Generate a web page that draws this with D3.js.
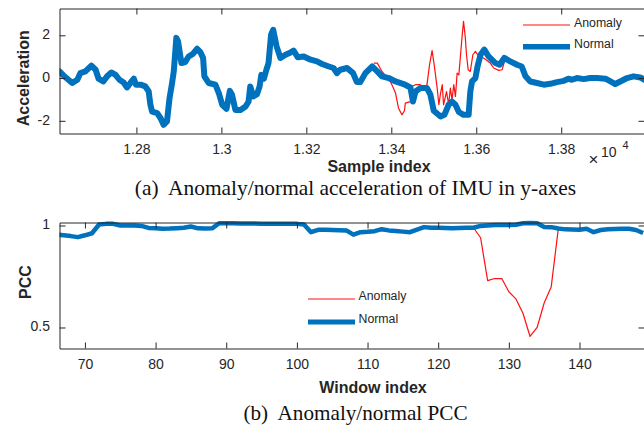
<!DOCTYPE html>
<html><head><meta charset="utf-8">
<script src="https://cdn.jsdelivr.net/npm/d3@7"></script>
<style>
body{margin:0;background:#fff}
text{font-family:"Liberation Sans",Arial,Helvetica,sans-serif}
.cap{font-family:"Liberation Serif","Times New Roman",serif;white-space:pre}
</style>
</head><body>
<svg id="c" width="644" height="427" xmlns="http://www.w3.org/2000/svg"></svg>
<script>
// ---------- data: (a) acceleration ----------
const accSample = [12619,12629,12649,12661,12668,12680,12694,12704,12711,12722,12731,12741,12751,12760,12770,12778,12786,12794,12799,12810,12821,12829,12833,12837,12849,12857,12864,12872,12878,12884,12888,12894,12898,12906,12915,12923,12933,12943,12951,12957,12960,12970,12986,12994,13002,13012,13020,13025,13033,13045,13057,13064,13068,13075,13084,13090,13094,13100,13106,13111,13117,13122,13130,13139,13151,13163,13170,13180,13194,13210,13225,13237,13253,13264,13272,13280,13296,13310,13319,13327,13339,13355,13367,13378,13394,13410,13429,13445,13451,13457,13468,13484,13492,13500,13516,13525,13535,13543,13551,13559,13570,13582,13586,13590,13598,13603,13610,13619,13629,13645,13655,13666,13680,13696,13707,13716,13727,13743,13759,13774,13790,13806,13817,13825,13837,13853,13868,13884,13904,13916,13927,13939,13955,13970,13986,13996];
const accNormal = [0.31,0.11,-0.23,-0.08,0.23,0.31,0.58,0.39,-0.03,-0.16,0.08,0.26,0.15,-0.08,-0.21,-0.44,-0.23,-0.03,-0.31,-0.31,-0.39,-0.63,-1.25,-1.57,-1.64,-1.88,-2.19,-2.03,-0.94,-0.23,0.31,1.88,1.72,0.70,0.75,1.01,1.13,1.37,1.20,0.94,0.08,-0.23,-0.31,-0.70,-1.25,-1.44,-0.60,-0.78,-1.49,-1.49,-1.33,-1.10,-0.39,-0.86,-0.75,-0.39,0.15,-0.03,0.39,0.70,2.03,2.26,1.48,0.94,1.09,1.20,1.28,0.97,1.01,0.86,0.78,0.66,0.54,0.47,0.23,0.39,0.47,0.23,-0.19,-0.19,0.23,0.54,0.31,0.08,0.00,-0.16,-0.28,-0.44,-1.10,-0.63,-0.47,-0.47,-0.78,-1.53,-1.80,-1.72,-1.25,-1.10,-1.25,-1.59,-1.72,-1.72,-0.63,-0.16,0.00,0.54,1.09,1.33,1.01,0.70,0.62,0.94,0.78,0.62,0.54,0.08,-0.16,-0.23,-0.31,-0.27,-0.19,-0.13,-0.03,-0.08,0.00,-0.05,0.00,0.00,-0.03,-0.16,-0.28,-0.16,0.00,0.08,0.03,-0.08];
const accAnomSample = [13359,13367,13378,13398,13410,13417,13425,13431,13433,13445,13449,13457,13468,13476,13484,13490,13496,13501,13508,13512,13516,13520,13523,13530,13535,13539,13543,13547,13551,13555,13559,13563,13567,13570,13574,13577,13581,13586,13592,13598,13606,13617,13633,13641,13653,13661,13666];
const accAnomaly = [0.70,0.70,0.31,-0.16,-0.70,-1.41,-1.72,-1.53,-1.17,-1.10,-0.39,-0.31,-0.31,-0.47,-0.31,0.62,1.28,0.62,-0.47,-1.25,-0.70,-0.31,-1.25,-0.63,-1.25,-0.47,-1.02,-0.31,-0.86,0.23,0.15,1.09,2.03,2.65,1.95,1.09,0.39,0.31,1.09,1.25,1.01,0.94,0.70,0.47,0.36,0.39,0.76];
const accXTicks = [12800,13000,13200,13400,13600,13800];
const accXTickLabels = ["1.28","1.3","1.32","1.34","1.36","1.38"];
const accYTicks = [-2,0,2];
const accYTickLabels = ["-2","0","2"];

// ---------- data: (b) PCC ----------
const pccWindow = [66,67,68,69,70,71,72,73,74,75,76,77,78,79,80,81,82,83,84,85,86,87,88,89,90,91,92,93,94,95,96,97,98,99,100,101,102,103,104,105,106,107,108,109,110,111,112,113,114,115,116,117,118,119,120,121,122,123,124,125,126,127,128,129,130,131,132,133,134,135,136,137,138,139,140,141,142,143,144,145,146,147,148,149];
const pccNormal = [0.955,0.952,0.948,0.943,0.952,0.962,1.005,1.008,1.008,1.000,1.000,1.000,0.998,0.988,0.986,0.984,0.985,0.987,0.989,0.995,0.986,0.985,0.986,1.011,1.011,1.011,1.010,1.010,1.010,1.009,1.009,1.009,1.009,1.009,1.008,1.005,0.967,0.979,0.979,0.978,0.977,0.976,0.955,0.967,0.969,0.972,0.982,0.976,0.973,0.970,0.967,0.980,0.992,0.989,0.989,0.988,0.986,0.988,0.989,0.989,0.998,1.000,1.002,1.003,1.003,1.004,1.011,1.012,1.011,0.993,0.992,0.985,0.981,0.980,0.979,0.984,0.967,0.978,0.982,0.983,0.984,0.984,0.978,0.963];
const pccAnomWindow = [125,126,127,128,129,130,131,132,133,134,135,136,137];
const pccAnomaly = [0.989,0.94,0.73,0.74,0.74,0.675,0.64,0.57,0.456,0.50,0.62,0.70,0.985];
const pccXTicks = [70,80,90,100,110,120,130,140];
const pccYTicks = [0.5,1];
const pccYTickLabels = ["0.5","1"];

const seriesNames = ["Anomaly","Normal"];
const captions = ["(a)  Anomaly/normal acceleration of IMU in y-axes","(b)  Anomaly/normal PCC"];

// ---------- drawing ----------
const BLUE = "#0072BD", RED = "#FF1010", AX = "#262626";
const svg = d3.select("#c");

function frame(g, x, y, xt, xl, yt, yl) {
  const [x0, x1] = x.range(), [y0, y1] = y.range(); // y0 bottom, y1 top
  const st = s => s.attr("font-size", null).attr("font-family", null)
     .call(a => a.selectAll("path,line").attr("stroke", AX).attr("stroke-width", 1))
     .call(a => a.selectAll("text").attr("fill", AX).style("font-size", "14px"));
  g.append("g").attr("transform", `translate(0,${y0})`)
   .call(d3.axisBottom(x).tickValues(xt).tickFormat((d, i) => xl[i]).tickSizeInner(-6).tickSizeOuter(0).tickPadding(10.5)).call(st);
  g.append("g").attr("transform", `translate(0,${y1})`)
   .call(d3.axisTop(x).tickValues(xt).tickFormat("").tickSizeInner(-6).tickSizeOuter(0)).call(st);
  const la = g.append("g").attr("transform", `translate(${x0},0)`)
   .call(d3.axisLeft(y).tickValues(yt).tickFormat((d, i) => yl[i]).tickSizeInner(-6).tickSizeOuter(0).tickPadding(9.5)).call(st);
  la.selectAll("text").attr("dy", null).attr("y", 3.5);
  g.append("g").attr("transform", `translate(${x1},0)`)
   .call(d3.axisRight(y).tickValues(yt).tickFormat("").tickSizeInner(-6).tickSizeOuter(0)).call(st);
}

function clip(id, x, y) {
  svg.append("clipPath").attr("id", id).append("rect")
    .attr("x", x.range()[0]).attr("width", x.range()[1] - x.range()[0])
    .attr("y", 0).attr("height", 427);
}

// ----- chart (a) -----
const xa = d3.scaleLinear().domain([12619, 13996]).range([59.5, 644.5]);
const ya = d3.scaleLinear().domain([-2.594, 3.254]).range([133.5, 8.5]);
clip("ca", xa, ya);
const ga = svg.append("g");
const la = d3.line().x(d => xa(d[0])).y(d => ya(d[1]));
ga.append("g").attr("clip-path", "url(#ca)").call(g => {
  g.append("path").attr("d", la(d3.zip(accAnomSample, accAnomaly)))
   .attr("fill", "none").attr("stroke", RED).attr("stroke-width", 1.2).attr("stroke-linejoin", "round");
  g.append("path").attr("d", la(d3.zip(accSample, accNormal)))
   .attr("fill", "none").attr("stroke", BLUE).attr("stroke-width", 6).attr("stroke-linejoin", "round").attr("stroke-linecap", "round");
});
frame(ga, xa, ya, accXTicks, accXTickLabels, accYTicks, accYTickLabels);

// legend (a)
[[25, RED, 1.2], [46.7, BLUE, 5.5]].forEach(([yy, c, w], i) => {
  ga.append("line").attr("x1", 523).attr("x2", 570).attr("y1", yy).attr("y2", yy).attr("stroke", c).attr("stroke-width", w);
  ga.append("text").attr("x", 574).attr("y", yy + 1.5).attr("font-size", 12.3).attr("fill", AX).text(seriesNames[i]);
});
// axis labels (a)
ga.append("text").attr("transform", "translate(28.5,78.3) rotate(-90)").attr("text-anchor", "middle")
  .attr("font-size", 16).attr("font-weight", "bold").attr("fill", AX).text("Acceleration");
ga.append("text").attr("x", 379).attr("y", 172).attr("text-anchor", "middle")
  .attr("font-size", 16).attr("font-weight", "bold").attr("fill", AX).text("Sample index");
// exponent label
ga.append("text").attr("x", 588.5).attr("y", 164.5).attr("font-size", 17).attr("fill", AX).text("\u00D7");
ga.append("text").attr("x", 601).attr("y", 157).attr("font-size", 14).attr("fill", AX).text("10");
ga.append("text").attr("x", 622.5).attr("y", 148.5).attr("font-size", 11).attr("fill", AX).text("4");
svg.append("text").attr("class", "cap").attr("x", 355.5).attr("y", 194.5).attr("text-anchor", "middle")
  .attr("font-size", 21.4).attr("fill", "#111").text(captions[0]);

// ----- chart (b) -----
const xb = d3.scaleLinear().domain([66.4, 149.2]).range([59.5, 644.5]);
const yb = d3.scaleLinear().domain([0.397, 1.0147]).range([348.5, 222.5]);
clip("cb", xb, yb);
const gb = svg.append("g");
const lb = d3.line().x(d => xb(d[0])).y(d => yb(d[1]));
gb.append("g").attr("clip-path", "url(#cb)").call(g => {
  g.append("path").attr("d", lb(d3.zip(pccAnomWindow, pccAnomaly)))
   .attr("fill", "none").attr("stroke", RED).attr("stroke-width", 1.2).attr("stroke-linejoin", "round");
  g.append("path").attr("d", lb(d3.zip(pccWindow, pccNormal)))
   .attr("fill", "none").attr("stroke", BLUE).attr("stroke-width", 4.5).attr("stroke-linejoin", "round");
});
frame(gb, xb, yb, pccXTicks, pccXTicks.map(String), pccYTicks, pccYTickLabels);
[[299, RED, 1.2], [322, BLUE, 5]].forEach(([yy, c, w], i) => {
  gb.append("line").attr("x1", 308).attr("x2", 355).attr("y1", yy).attr("y2", yy).attr("stroke", c).attr("stroke-width", w);
  gb.append("text").attr("x", 358.5).attr("y", yy + 1).attr("font-size", 12.3).attr("fill", AX).text(seriesNames[i]);
});
gb.append("text").attr("transform", "translate(30.5,282) rotate(-90)").attr("text-anchor", "middle")
  .attr("font-size", 16).attr("font-weight", "bold").attr("fill", AX).text("PCC");
gb.append("text").attr("x", 373).attr("y", 393).attr("text-anchor", "middle")
  .attr("font-size", 16).attr("font-weight", "bold").attr("fill", AX).text("Window index");
svg.append("text").attr("class", "cap").attr("x", 355.5).attr("y", 419.5).attr("text-anchor", "middle")
  .attr("font-size", 21.2).attr("fill", "#111").text(captions[1]);
</script>
</body></html>
